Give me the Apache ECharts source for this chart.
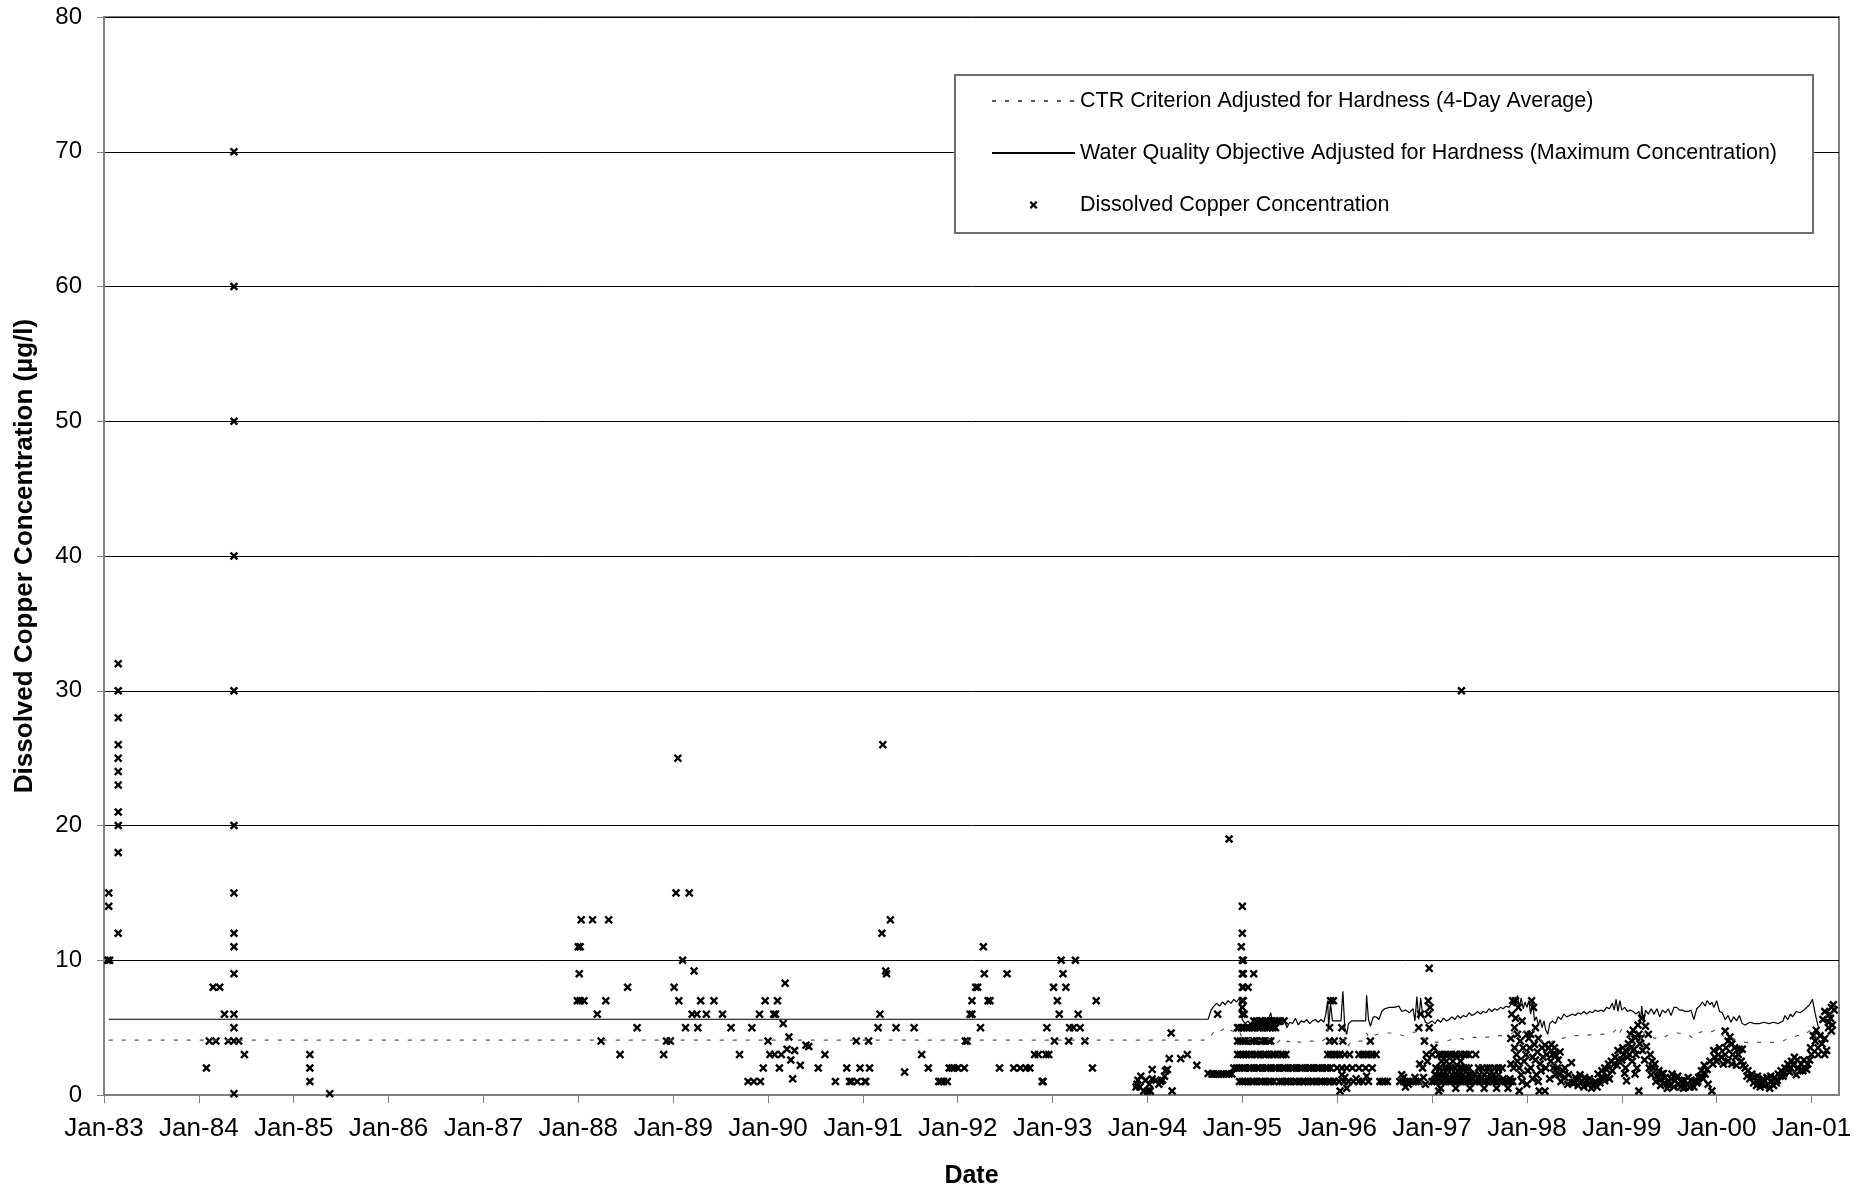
<!DOCTYPE html>
<html><head><meta charset="utf-8">
<script src="https://cdn.jsdelivr.net/npm/echarts@6/dist/echarts.min.js"></script>
<style>html,body{margin:0;padding:0;background:#fff}#c{width:1873px;height:1194px}</style>
</head><body><div id="c"></div>
<script>
const xTickLabels = ['Jan-83','Jan-84','Jan-85','Jan-86','Jan-87','Jan-88','Jan-89','Jan-90','Jan-91','Jan-92','Jan-93','Jan-94','Jan-95','Jan-96','Jan-97','Jan-98','Jan-99','Jan-00','Jan-01'];
const yTicks = [0,10,20,30,40,50,60,70,80];

// Dissolved copper samples: [decimal year, ug/l]
const cu1983 = [[1983.05,15],[1983.05,14],[1983.04,10],[1983.06,10],[1983.15,32],[1983.15,30],[1983.15,28],[1983.15,26],[1983.15,25],[1983.15,24],[1983.15,23],[1983.15,21],[1983.15,20],[1983.15,18],[1983.15,12]];
const cu1984 = [[1984.08,2],[1984.15,8],[1984.22,8],[1984.11,4],[1984.18,4],[1984.31,4],[1984.27,6],[1984.37,70],[1984.37,60],[1984.37,50],[1984.37,40],[1984.37,30],[1984.37,20],[1984.37,15],[1984.37,12],[1984.37,11],[1984.37,9],[1984.37,6],[1984.37,5],[1984.37,4],[1984.37,0.1],[1984.42,4],[1984.48,3]];
const cu1985 = [[1985.17,3],[1985.17,2],[1985.17,1],[1985.38,0.1]];
const cu1988 = [[1988.0,11],[1988.02,11],[1988.01,9],[1987.99,7],[1988.02,7],[1988.06,7],[1988.03,13],[1988.15,13],[1988.32,13],[1988.2,6],[1988.24,4],[1988.29,7],[1988.44,3],[1988.52,8],[1988.62,5]];
const cu1989_93 = [[1988.9,3],[1988.93,4],[1988.97,4],[1989.01,8],[1989.03,15],[1989.05,25],[1989.06,7],[1989.1,10],[1989.13,5],[1989.17,15],[1989.2,6],[1989.22,9.2],[1989.25,6],[1989.26,5],[1989.29,7],[1989.35,6],[1989.43,7],[1989.52,6],[1989.61,5],[1989.7,3],[1989.79,1],[1989.83,5],[1989.85,1],[1989.91,6],[1989.92,1],[1989.95,2],[1989.97,7],[1990.0,4],[1990.02,3],[1990.06,6],[1990.07,3],[1990.08,6],[1990.1,7],[1990.12,2],[1990.14,3],[1990.16,5.3],[1990.18,8.3],[1990.2,3.4],[1990.22,4.3],[1990.24,2.6],[1990.26,1.2],[1990.28,3.3],[1990.34,2.2],[1990.4,3.7],[1990.43,3.6],[1990.53,2],[1990.6,3],[1990.71,1],[1990.83,2],[1990.86,1],[1990.88,1],[1990.93,4],[1990.94,1],[1990.97,2],[1991.02,1],[1991.03,1],[1991.06,4],[1991.07,2],[1991.16,5],[1991.18,6],[1991.2,12],[1991.21,26],[1991.24,9.2],[1991.25,9],[1991.29,13],[1991.35,5],[1991.44,1.7],[1991.54,5],[1991.62,3],[1991.69,2],[1991.8,1],[1991.82,1],[1991.85,1],[1991.89,1],[1991.91,2],[1991.94,2],[1991.96,2],[1992.0,2],[1992.07,2],[1992.08,4],[1992.1,4],[1992.13,6],[1992.15,6],[1992.15,7],[1992.19,8],[1992.21,8],[1992.24,5],[1992.27,11],[1992.28,9],[1992.32,7],[1992.34,7],[1992.44,2],[1992.52,9],[1992.59,2],[1992.66,2],[1992.72,2],[1992.76,2],[1992.81,3],[1992.85,3],[1992.89,1],[1992.9,1],[1992.93,3],[1992.94,5],[1992.96,3],[1993.01,8],[1993.02,4],[1993.05,7],[1993.07,6],[1993.09,10],[1993.11,9],[1993.14,8],[1993.17,4],[1993.18,5],[1993.22,5],[1993.24,10],[1993.27,6],[1993.29,5],[1993.34,4],[1993.42,2],[1993.46,7]];
const cu1994 = [[1993.88,0.6],[1993.89,0.8],[1993.9,1.1],[1993.93,1.4],[1993.92,0.6],[1993.96,0.3],[1993.98,1.1],[1994.0,0.3],[1994.02,0.8],[1994.03,0.3],[1994.05,1.2],[1994.05,1.9],[1994.09,1.1],[1994.12,0.8],[1994.14,1.0],[1994.16,1.1],[1994.18,1.4],[1994.19,1.8],[1994.21,1.9],[1994.23,2.7],[1994.25,4.6],[1994.26,0.3],[1994.35,2.7],[1994.42,3.0],[1994.52,2.2],[1994.64,1.6],[1994.68,1.55],[1994.7,1.55],[1994.72,1.55],[1994.74,6.0],[1994.75,1.55],[1994.78,1.55],[1994.8,1.55],[1994.83,1.55],[1994.86,19],[1994.86,1.55],[1994.89,1.55],[1994.95,5],
 [1995.0,14],[1995.0,12],[1994.99,11],[1995.0,10],[1995.01,10],[1995.0,9],[1995.01,9],[1995.0,8],[1995.01,8],[1995.0,7],[1995.01,7],[1995.0,6],[1995.02,6],[1995.0,6.5],[1995.12,9],[1995.06,8]];
// dense bands of repeated reporting values: [value, [decimal years]]
const cuBands1995 = [
 [5.5,[1995.12,1995.15,1995.19,1995.21,1995.24,1995.27,1995.3,1995.34,1995.37,1995.4,1995.44]],
 [5,[1994.96,1994.99,1995.02,1995.05,1995.07,1995.1,1995.13,1995.17,1995.19,1995.22,1995.26,1995.29,1995.32,1995.35]],
 [4,[1994.95,1994.98,1995.01,1995.03,1995.06,1995.1,1995.12,1995.15,1995.19,1995.21,1995.24,1995.28,1995.3]],
 [3,[1994.95,1994.98,1995.01,1995.04,1995.07,1995.1,1995.14,1995.16,1995.19,1995.23,1995.25,1995.28,1995.32,1995.34,1995.37,1995.41,1995.43,1995.46]],
 [2,[1994.91,1994.94,1994.97,1995.0,1995.03,1995.07,1995.09,1995.12,1995.16,1995.18,1995.21,1995.25,1995.27,1995.3,1995.34,1995.36,1995.39,1995.43,1995.45,1995.48,1995.52,1995.54,1995.57,1995.61,1995.63,1995.66,1995.7,1995.72,1995.75,1995.79,1995.81,1995.84,1995.88,1995.9,1995.93]],
 [1,[1994.97,1995.0,1995.03,1995.06,1995.1,1995.12,1995.15,1995.19,1995.21,1995.24,1995.28,1995.3,1995.33,1995.39,1995.42,1995.46,1995.48,1995.51,1995.55,1995.57,1995.6,1995.64,1995.66,1995.69,1995.73,1995.75,1995.78,1995.82,1995.84,1995.87,1995.91,1995.93,1995.96]]
];
const cu1996 = [[1995.93,7],[1995.96,7],[1995.92,5],[1996.05,5],[1995.92,4],[1995.97,4],[1996.06,4],[1996.35,4],[1995.9,3],[1995.93,3],[1995.97,3],[1996.0,3],[1996.03,3],[1996.08,3],[1996.13,3],[1996.23,3],[1996.27,3],[1996.3,3],[1996.33,3],[1996.37,3],[1996.41,3],[1996.0,2],[1996.05,2],[1996.1,2],[1996.16,2],[1996.23,2],[1996.3,2],[1996.37,2],[1995.97,1],[1996.02,1],[1996.07,1],[1996.12,1],[1996.17,1],[1996.23,1],[1996.27,1],[1996.31,1.4],[1996.33,1],[1996.45,1],[1996.48,1],[1996.5,1],[1996.53,1],[1996.05,1.5],[1996.08,1.3],[1996.1,0.5],[1996.03,0.3],[1996.2,1.2],
 [1996.66,1],[1996.68,1.5],[1996.7,1],[1996.72,0.6],[1996.74,1],[1996.77,1],[1996.8,1],[1996.83,1],[1996.86,1],[1996.7,1.3],[1996.75,0.8],[1996.82,1.3],[1996.86,5],[1996.88,6],[1996.87,2.3],[1996.9,2],[1996.92,4],[1996.94,3],[1996.95,2.5],[1996.96,7],[1996.96,6],[1996.97,9.4],[1996.97,5],[1996.98,6.5],[1997.0,3],[1997.0,1],[1997.02,3.5],[1997.03,1.5],[1997.07,0.3],[1996.91,1.3],[1996.93,0.8],[1997.31,30]];
const cuBands1997 = [
 [1,[1997.02,1997.05,1997.09,1997.11,1997.14,1997.18,1997.2,1997.23,1997.27,1997.29,1997.32,1997.36,1997.38,1997.41,1997.45,1997.47,1997.5,1997.54,1997.56,1997.59,1997.63,1997.65,1997.68,1997.72,1997.74,1997.77,1997.81,1997.83]],
 [1.2,[1997.06,1997.13,1997.19,1997.26,1997.34,1997.43,1997.52,1997.6,1997.67,1997.75,1997.82]],
 [1.5,[1997.04,1997.08,1997.12,1997.16,1997.21,1997.25,1997.29,1997.33,1997.38,1997.41,1997.45,1997.5,1997.55,1997.61,1997.65,1997.7]],
 [2,[1997.04,1997.08,1997.13,1997.16,1997.2,1997.24,1997.29,1997.32,1997.36,1997.39,1997.49,1997.53,1997.58,1997.61,1997.66,1997.7,1997.74]],
 [2.5,[1997.1,1997.15,1997.22,1997.3]],
 [3,[1997.07,1997.1,1997.14,1997.17,1997.2,1997.24,1997.26,1997.3,1997.34,1997.36,1997.39,1997.46]],
 [0.5,[1997.09,1997.25,1997.4,1997.55,1997.68,1997.8]]
];
const cu1998 = [[1997.85,7],[1997.88,7],[1997.91,6.5],[1998.05,7],[1998.07,6.5],[1997.88,5.7],[1997.87,5],[1997.9,4.5],[1997.83,4.2],[1997.93,4],[1997.96,3.5],[1997.99,3],[1998.06,2.8],[1997.87,3.5],[1997.9,2.5],[1997.83,2.3],[1997.94,1.5],[1998.04,2],[1998.1,1.5],[1998.12,1],[1998.13,0.3],[1997.92,0.3],[1998.0,0.8],[1998.04,4.5],[1998.08,3.75],[1998.11,3.2],[1998.14,2.3],[1998.16,3.5],[1998.19,3.7],[1998.23,3.5],[1998.26,3.75],[1998.29,3.5],[1998.2,2],[1998.25,2.5],[1998.28,2],[1998.3,1.5],[1998.19,0.3],[1997.85,1],[1997.86,2],[1998.02,4.2],[1997.95,5.5],[1998.0,4.5],[1998.09,5],
 [1997.84,6.0],[1997.89,3.0],[1997.92,2.0],[1997.95,1.0],[1997.97,2.5],[1998.01,1.8],[1998.03,3.5],[1998.06,1.2],[1998.09,2.6],[1998.12,4.2],[1998.15,1.8],[1998.17,2.8],[1998.21,3.0],[1998.24,1.2],[1998.27,3.0],[1998.32,2.0],[1998.34,1.5],
 [1998.3,3.0],[1998.33,2.6],[1998.35,3.2],[1998.38,1.8],[1998.36,1.0],[1998.4,1.3],[1998.4,2.0],[1998.43,0.8],[1998.44,1.5],[1998.47,2.4],[1998.48,0.9],[1998.5,0.9],[1998.51,1.3],[1998.53,1.1],[1998.54,0.7],[1998.56,1.5],[1998.58,1.0],[1998.6,0.6],[1998.61,1.3],[1998.63,1.1],[1998.65,0.8],[1998.66,1.2],[1998.68,0.5],[1998.7,0.7],[1998.72,1.0],[1998.74,0.6],[1998.75,1.55],[1998.77,0.9],[1998.78,1.3],[1998.79,1.8],[1998.8,1.3],[1998.82,1.05],[1998.82,2.0],[1998.84,1.9],[1998.85,1.4],[1998.86,2.3],[1998.87,1.2],[1998.89,2.5],[1998.9,1.8],[1998.92,2.3],[1998.93,2.8],[1998.95,2.2],[1998.96,3.3],[1998.97,2.5],[1999.0,2.6],[1999.01,3.5],[1999.02,3.0],[1999.03,1.6],[1999.04,3.3],[1999.06,2.8],[1999.07,3.8],[1999.08,3.0],[1999.1,3.5],[1999.11,4.0],[1999.12,4.8],[1999.13,3.4],[1999.14,4.3],[1999.15,3.0],[1999.16,2.0],[1999.17,5.2],[1999.18,4.5],[1999.2,4.2],[1999.21,5.7],[1999.22,3.3],[1999.24,2.6],[1999.25,5.1],[1999.19,3.8],[1999.11,2.5],[1999.14,1.55],[1999.05,1.05],[1999.04,2.0],[1999.09,4.5],[1999.18,0.3]];
const cu1999_01 = [[1999.26,3.6],[1999.28,4.5],[1999.29,2.0],[1999.3,3.0],[1999.31,1.5],[1999.32,2.5],[1999.33,2.0],[1999.35,2.3],[1999.36,1.0],[1999.37,1.4],[1999.39,1.8],[1999.4,1.1],[1999.41,0.7],[1999.42,1.55],[1999.44,1.6],[1999.45,0.9],[1999.46,1.3],[1999.48,0.5],[1999.49,1.05],[1999.5,0.7],[1999.52,1.2],[1999.53,1.55],[1999.55,0.6],[1999.56,1.05],[1999.58,1.3],[1999.59,1.4],[1999.6,0.8],[1999.62,0.6],[1999.63,1.05],[1999.65,0.5],[1999.66,1.1],[1999.67,0.6],[1999.69,0.8],[1999.7,1.3],[1999.72,0.6],[1999.73,1.1],[1999.74,0.8],[1999.76,0.6],[1999.77,1.05],[1999.79,0.9],[1999.8,1.0],[1999.81,1.3],[1999.83,1.4],[1999.84,1.8],[1999.86,1.2],[1999.87,2.2],[1999.88,1.55],[1999.9,1.9],[1999.91,0.8],[1999.93,2.5],[1999.95,0.3],[1999.96,2.3],[1999.97,3.3],[1999.98,2.8],[2000.0,2.5],[2000.02,3.0],[2000.03,3.5],[2000.05,2.8],[2000.07,2.3],[2000.09,3.0],[2000.1,3.5],[2000.12,2.5],[2000.14,4.3],[2000.16,2.3],[2000.09,4.75],[2000.12,4.0],[2000.16,3.8],[2000.17,3.0],[2000.19,3.5],[2000.2,2.8],[2000.21,2.2],[2000.23,3.0],[2000.24,3.4],[2000.26,2.5],[2000.27,3.4],[2000.28,2.2],[2000.3,2.0],[2000.32,1.4],[2000.33,1.8],[2000.35,1.2],[2000.37,1.55],[2000.39,0.9],[2000.4,1.3],[2000.42,0.7],[2000.43,1.4],[2000.44,1.05],[2000.46,0.6],[2000.47,0.8],[2000.49,1.2],[2000.5,0.7],[2000.51,1.05],[2000.53,1.3],[2000.54,0.8],[2000.56,0.5],[2000.57,1.4],[2000.58,1.05],[2000.6,0.7],[2000.61,1.3],[2000.63,0.9],[2000.64,1.1],[2000.65,1.55],[2000.67,1.4],[2000.68,1.8],[2000.7,1.4],[2000.71,1.6],[2000.72,2.0],[2000.74,1.9],[2000.75,2.3],[2000.77,1.7],[2000.78,2.0],[2000.79,2.5],[2000.81,2.2],[2000.82,2.8],[2000.84,1.5],[2000.85,2.6],[2000.86,2.0],[2000.88,1.8],[2000.89,2.3],[2000.91,1.8],[2000.92,2.6],[2000.93,2.0],[2000.95,1.9],[2000.96,2.3],[2000.98,2.6],[2000.99,3.5],[2001.0,3.0],[2001.02,4.4],[2001.04,4.0],[2001.05,4.8],[2001.07,3.5],[2001.07,3.0],[2001.09,4.4],[2001.11,3.8],[2001.12,5.6],[2001.14,4.2],[2001.18,5.0],[2001.19,6.0],[2001.2,5.7],[2001.21,6.5],[2001.22,5.2],[2001.23,6.7],[2001.24,6.3],[2001.14,6.2],[2001.18,5.4],[2001.21,4.75],[2001.16,3.3],[2001.14,3.0]];

// Criteria lines: [decimal year, ug/l]
const wqoLine = [[1983.05,5.62],[1994.64,5.62],[1994.67,6.3],[1994.7,6.6],[1994.73,6.8],[1994.76,6.6],[1994.79,6.9],[1994.82,6.7],[1994.85,7.0],[1994.88,6.8],[1994.91,7.1],[1994.94,6.9],[1994.97,7.2],[1995.0,5.6],[1995.03,5.3],[1995.06,5.5],[1995.09,5.2],[1995.12,5.5],[1995.15,5.1],[1995.18,5.4],[1995.21,5.6],[1995.24,5.0],[1995.27,5.5],[1995.3,6.1],[1995.32,5.2],[1995.35,4.9],[1995.38,5.4],[1995.41,5.2],[1995.44,5.6],[1995.47,5.0],[1995.5,5.4],[1995.53,5.3],[1995.56,5.7],[1995.59,5.2],[1995.62,5.5],[1995.65,5.4],[1995.68,5.6],[1995.71,5.3],[1995.74,5.5],[1995.77,5.6],[1995.8,5.4],[1995.83,5.6],[1995.86,5.4],[1995.88,6.0],[1995.9,7.0],[1995.91,5.0],[1995.93,6.8],[1995.95,5.5],[1996.04,5.5],[1996.06,7.7],[1996.08,5.0],[1996.1,4.5],[1996.12,5.3],[1996.15,5.5],[1996.3,5.5],[1996.31,7.4],[1996.33,5.6],[1996.35,5.1],[1996.38,5.8],[1996.41,5.8],[1996.44,5.6],[1996.47,6.2],[1996.5,6.4],[1996.55,6.5],[1996.6,6.5],[1996.65,6.6],[1996.68,6.2],[1996.72,6.3],[1996.76,6.1],[1996.8,6.4],[1996.82,5.5],[1996.84,7.3],[1996.86,5.6],[1996.88,7.2],[1996.9,6.0],[1996.93,5.4],[1996.96,5.3],[1997.0,5.5],[1997.03,5.3],[1997.06,5.6],[1997.09,5.4],[1997.12,5.7],[1997.15,5.5],[1997.18,5.6],[1997.21,5.8],[1997.24,5.6],[1997.27,5.9],[1997.3,5.7],[1997.33,5.9],[1997.36,5.8],[1997.39,6.1],[1997.42,5.9],[1997.45,6.0],[1997.48,6.2],[1997.51,6.0],[1997.54,6.2],[1997.57,6.1],[1997.6,6.4],[1997.63,6.2],[1997.66,6.4],[1997.69,6.3],[1997.72,6.5],[1997.75,6.4],[1997.78,6.6],[1997.81,6.5],[1997.84,6.8],[1997.87,6.6],[1997.9,7.4],[1997.92,6.5],[1997.94,7.2],[1997.96,6.4],[1997.98,6.9],[1998.0,6.5],[1998.02,7.0],[1998.04,6.0],[1998.06,7.1],[1998.08,5.5],[1998.1,5.8],[1998.12,5.2],[1998.14,5.6],[1998.16,5.0],[1998.18,5.5],[1998.2,4.8],[1998.22,4.5],[1998.24,5.3],[1998.27,5.5],[1998.3,5.3],[1998.33,5.8],[1998.36,5.6],[1998.39,6.0],[1998.42,5.8],[1998.45,5.9],[1998.48,6.0],[1998.51,5.9],[1998.54,6.1],[1998.57,6.0],[1998.6,6.2],[1998.63,6.0],[1998.66,6.2],[1998.69,6.1],[1998.72,6.3],[1998.75,6.2],[1998.78,6.3],[1998.81,6.2],[1998.84,6.5],[1998.87,6.4],[1998.9,6.8],[1998.92,6.3],[1998.94,7.1],[1998.96,6.2],[1998.98,7.0],[1999.0,6.3],[1999.03,6.5],[1999.06,6.2],[1999.09,6.3],[1999.12,6.2],[1999.15,6.0],[1999.18,6.2],[1999.2,5.6],[1999.21,6.6],[1999.23,5.3],[1999.25,6.3],[1999.28,6.0],[1999.31,6.4],[1999.34,6.0],[1999.37,6.4],[1999.4,5.8],[1999.43,6.3],[1999.46,6.1],[1999.49,6.4],[1999.52,5.9],[1999.55,6.5],[1999.58,6.5],[1999.61,6.3],[1999.64,6.3],[1999.67,6.2],[1999.7,6.2],[1999.73,6.3],[1999.76,5.6],[1999.79,6.4],[1999.82,6.6],[1999.85,6.9],[1999.88,6.6],[1999.9,7.0],[1999.93,6.7],[1999.95,6.9],[1999.97,6.5],[2000.0,7.0],[2000.03,6.2],[2000.06,6.1],[2000.09,5.6],[2000.12,5.9],[2000.15,5.4],[2000.18,5.8],[2000.21,5.5],[2000.24,5.9],[2000.27,5.3],[2000.3,5.2],[2000.35,5.4],[2000.4,5.3],[2000.45,5.3],[2000.5,5.4],[2000.55,5.3],[2000.6,5.4],[2000.65,5.3],[2000.7,5.5],[2000.72,5.9],[2000.75,5.6],[2000.78,6.0],[2000.8,5.8],[2000.84,6.2],[2000.88,6.1],[2000.92,6.3],[2000.95,6.5],[2000.98,6.7],[2001.01,7.1],[2001.04,6.0],[2001.07,5.1]];
const ctrLine = [[1983.05,4.07],[1994.64,4.07],[1994.68,4.5],[1994.72,4.85],[1994.76,4.7],[1994.8,4.9],[1994.84,4.6],[1994.88,4.8],[1994.92,4.7],[1994.96,4.9],[1995.0,4.2],[1995.04,4.0],[1995.08,4.2],[1995.12,3.9],[1995.16,4.1],[1995.2,4.0],[1995.24,3.8],[1995.28,4.2],[1995.32,3.9],[1995.36,3.8],[1995.4,4.1],[1995.44,3.8],[1995.48,4.0],[1995.52,3.9],[1995.56,4.1],[1995.6,3.9],[1995.64,4.0],[1995.68,3.9],[1995.72,4.0],[1995.76,4.0],[1995.8,3.9],[1995.84,4.0],[1995.88,4.2],[1995.9,4.9],[1995.92,3.8],[1995.95,4.0],[1996.05,4.0],[1996.07,4.5],[1996.1,3.5],[1996.13,3.8],[1996.17,4.0],[1996.28,4.0],[1996.31,4.6],[1996.34,4.2],[1996.38,4.4],[1996.42,4.5],[1996.5,4.6],[1996.6,4.6],[1996.65,4.5],[1996.7,4.4],[1996.78,4.6],[1996.84,4.7],[1996.88,4.4],[1996.92,4.2],[1996.96,4.0],[1997.0,4.0],[1997.05,3.9],[1997.1,4.0],[1997.15,4.0],[1997.2,4.1],[1997.25,4.1],[1997.3,4.2],[1997.35,4.1],[1997.4,4.2],[1997.45,4.3],[1997.5,4.2],[1997.55,4.3],[1997.6,4.3],[1997.65,4.4],[1997.7,4.4],[1997.75,4.4],[1997.8,4.5],[1997.85,4.6],[1997.9,4.8],[1997.95,4.6],[1998.0,4.8],[1998.04,4.7],[1998.07,4.9],[1998.1,4.3],[1998.15,4.1],[1998.2,3.8],[1998.23,3.7],[1998.27,4.0],[1998.32,4.1],[1998.37,4.2],[1998.42,4.3],[1998.5,4.4],[1998.6,4.4],[1998.7,4.5],[1998.8,4.5],[1998.85,4.6],[1998.9,4.6],[1998.95,4.9],[1998.97,4.5],[1999.0,4.9],[1999.05,4.5],[1999.1,4.4],[1999.15,4.4],[1999.2,4.1],[1999.22,4.8],[1999.25,4.3],[1999.3,4.4],[1999.35,4.2],[1999.4,4.4],[1999.45,4.3],[1999.5,4.5],[1999.55,4.6],[1999.6,4.6],[1999.65,4.5],[1999.7,4.5],[1999.75,4.2],[1999.8,4.6],[1999.85,4.7],[1999.9,4.8],[1999.95,4.7],[2000.0,4.9],[2000.05,4.5],[2000.1,4.2],[2000.15,4.3],[2000.2,4.1],[2000.25,4.0],[2000.3,3.9],[2000.4,3.9],[2000.5,3.9],[2000.6,3.9],[2000.65,4.0],[2000.7,4.0],[2000.75,4.2],[2000.8,4.3],[2000.85,4.4],[2000.9,4.4],[2000.95,4.6],[2001.01,4.9],[2001.04,4.4],[2001.07,4.0]];

const seriesNames = ['CTR Criterion Adjusted for Hardness (4-Day Average)','Water Quality Objective Adjusted for Hardness (Maximum Concentration)','Dissolved Copper Concentration'];

function expandBands(bands){const out=[];bands.forEach(b=>b[1].forEach(x=>out.push([x,b[0]])));return out;}
const copperPoints = [].concat(cu1983,cu1984,cu1985,cu1988,cu1989_93,cu1994,expandBands(cuBands1995),cu1996,expandBands(cuBands1997),cu1998,cu1999_01);

const FONT = 'Liberation Sans, Arial, sans-serif';
const XMARK = 'path://M0,2L2,0L5,3L8,0L10,2L7,5L10,8L8,10L5,7L2,10L0,8L3,5Z';

const chart = echarts.init(document.getElementById('c'), null, {renderer:'canvas'});
chart.setOption({
  animation:false,
  backgroundColor:'#fff',
  textStyle:{fontFamily:FONT},
  grid:{left:104,right:34,top:17,bottom:96,show:true,borderColor:'#808080',borderWidth:2,containLabel:false},
  xAxis:{type:'value',min:1983,max:2001.29,interval:1,
    name:'Date',nameLocation:'middle',nameGap:69,
    nameTextStyle:{fontFamily:FONT,fontSize:25,fontWeight:'bold',color:'#000'},
    axisLine:{show:true,lineStyle:{color:'#808080',width:2}},
    axisTick:{show:true,inside:false,length:8,lineStyle:{color:'#808080',width:1}},
    splitLine:{show:false},
    axisLabel:{margin:21,fontFamily:FONT,fontSize:26,color:'#000',showMaxLabel:false,
      formatter:v=>{const i=Math.round(v-1983);return Math.abs(v-1983-i)<1e-6&&xTickLabels[i]?xTickLabels[i]:'';}}
  },
  yAxis:{type:'value',min:yTicks[0],max:yTicks[yTicks.length-1],interval:10,
    name:'Dissolved Copper Concentration (µg/l)',nameLocation:'middle',nameGap:66,nameRotate:90,
    nameTextStyle:{fontFamily:FONT,fontSize:26,fontWeight:'bold',color:'#000'},
    axisLine:{show:true,lineStyle:{color:'#808080',width:2}},
    axisTick:{show:true,inside:false,length:7,lineStyle:{color:'#808080'}},
    splitLine:{show:true,lineStyle:{color:'#000',width:1}},
    axisLabel:{margin:22,fontFamily:FONT,fontSize:24,color:'#000'}
  },
  legend:{orient:'vertical',left:991,top:90,padding:0,itemGap:30,itemWidth:83,itemHeight:8,z:20,
    textStyle:{fontFamily:FONT,fontSize:21.5,color:'#000',lineHeight:22},
    data:[{name:seriesNames[0]},{name:seriesNames[1]},{name:seriesNames[2]}]},
  graphic:{elements:[{type:'rect',left:954,top:74,z:10,shape:{width:858,height:158},
    style:{fill:'#fff',stroke:'#6e6e6e',lineWidth:2}}]},
  series:[
    {name:seriesNames[2],type:'scatter',data:copperPoints,symbol:XMARK,symbolSize:8.5,
      itemStyle:{color:'#000',opacity:1},z:2,silent:true},
    {name:seriesNames[0],type:'line',data:ctrLine,showSymbol:false,symbol:'none',
      lineStyle:{color:'#555',width:1.2,type:[4,9]},itemStyle:{color:'rgba(0,0,0,0)'},z:3,silent:true},
    {name:seriesNames[1],type:'line',data:wqoLine,showSymbol:false,symbol:'none',
      lineStyle:{color:'#000',width:1.2,type:'solid'},itemStyle:{color:'rgba(0,0,0,0)'},z:3,silent:true}
  ]
});
</script>
</body></html>
